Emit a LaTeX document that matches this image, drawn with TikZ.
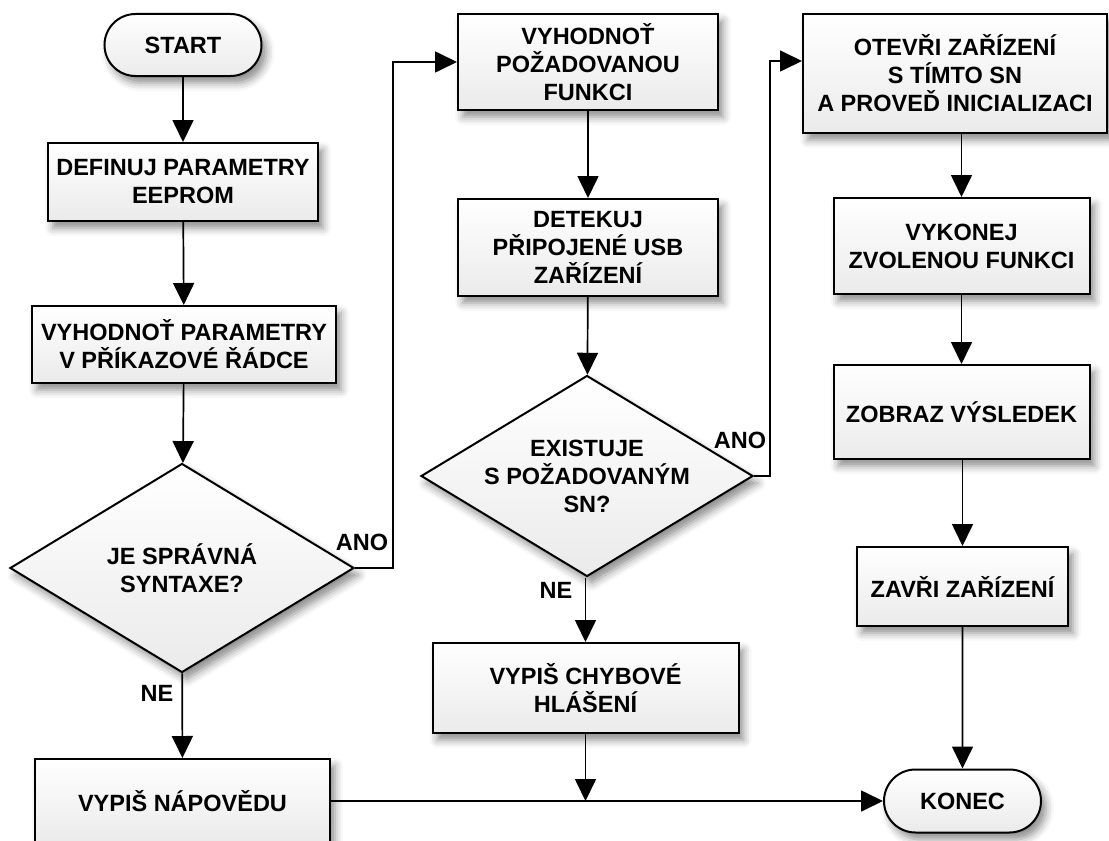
\documentclass[tikz,border=0pt]{standalone}
\usepackage{fontspec}
\setmainfont{Liberation Sans}
\usetikzlibrary{shapes.geometric,shapes.misc,arrows.meta,shadows.blur}
\begin{document}
\begin{tikzpicture}[x=1bp,y=-1bp,
  every node/.style={font=\fontsize{23.5bp}{28bp}\selectfont\bfseries},
  shaped/.style={draw=black, line width=2bp, top color=white, bottom color=black!8,
    blur shadow={shadow xshift=5bp, shadow yshift=-7bp, shadow blur radius=8bp, shadow opacity=45},
    align=center, inner sep=0pt},
  procbox/.style={shaped, rectangle},
  termbox/.style={shaped, rounded rectangle},
  decbox/.style={shaped, diamond},
  flow/.style={line width=1.7bp, -{Triangle[length=22bp,width=21bp]}},
  lbl/.style={inner sep=0pt}
]
\useasboundingbox (0,0) rectangle (1109,841);

% left column
\node[termbox, minimum width=157bp, minimum height=62bp] (start) at (183,45) {START};
\node[procbox, minimum width=270bp, minimum height=78bp] (def) at (183,182) {DEFINUJ PARAMETRY\\EEPROM};
\node[procbox, minimum width=304bp, minimum height=77bp] (cmd) at (184,344.5) {VYHODNOŤ PARAMETRY\\V PŘÍKAZOVÉ ŘÁDCE};
\node[decbox, minimum width=344bp, minimum height=209bp, aspect=1.65] (syn) at (182,568) {JE SPRÁVNÁ\\SYNTAXE?};
\node[procbox, minimum width=295bp, minimum height=84bp] (help) at (182.5,801) {VYPIŠ NÁPOVĚDU};

% middle column
\node[procbox, minimum width=260bp, minimum height=96bp] (func) at (588,62) {VYHODNOŤ\\POŽADOVANOU\\FUNKCI};
\node[procbox, minimum width=260bp, minimum height=97bp] (usb) at (588,247.5) {DETEKUJ\\PŘIPOJENÉ USB\\ZAŘÍZENÍ};
\node[decbox, minimum width=332bp, minimum height=201bp, aspect=1.65] (exist) at (587,476) {EXISTUJE\\S POŽADOVANÝM\\SN?};
\node[procbox, minimum width=306bp, minimum height=90bp] (err) at (585.5,688) {VYPIŠ CHYBOVÉ\\HLÁŠENÍ};

% right column
\node[procbox, minimum width=304bp, minimum height=119bp] (open) at (955,73.5) {OTEVŘI ZAŘÍZENÍ\\S TÍMTO SN\\A PROVEĎ INICIALIZACI};
\node[procbox, minimum width=256bp, minimum height=96bp] (run) at (961.5,246) {VYKONEJ\\ZVOLENOU FUNKCI};
\node[procbox, minimum width=256bp, minimum height=94bp] (show) at (961.5,412) {ZOBRAZ VÝSLEDEK};
\node[procbox, minimum width=211bp, minimum height=79bp] (close) at (962.5,586.5) {ZAVŘI ZAŘÍZENÍ};
\node[termbox, minimum width=157bp, minimum height=63bp] (end) at (962.5,801) {KONEC};

% connectors
\draw[flow] (start) -- (def);
\draw[flow] (def) -- (cmd);
\draw[flow] (cmd) -- (syn);
\draw[flow] (syn) -- (help);
\coordinate (j1) at (393,568);
\draw[flow] (syn.east) -- (j1) |- (func.west);

\draw[flow] (func) -- (usb);
\draw[flow] (usb) -- (exist);
\draw[flow] (exist.south -| err.north) -- (err.north);
\coordinate (j2) at (770,476);
\coordinate (openin) at ([yshift=12.5bp]open.west);
\draw[flow] (exist.east) -- (j2) |- (openin);

\coordinate (j3) at (err.south |- help.east);
\draw[flow] (err) -- (j3);
\draw[flow] (help.east) -- (end.west);

\draw[flow] (run.north |- open.south) -- (run.north);
\draw[flow] (run) -- (show);
\draw[flow] (show.south -| close.north) -- (close.north);
\draw[flow] (close) -- (end);

% branch labels
\node[lbl] (ano1) at (362,542) {ANO};
\node[lbl] (ne1) at (157,693) {NE};
\node[lbl] (ano2) at (740,440) {ANO};
\node[lbl] (ne2) at (556,590) {NE};
\end{tikzpicture}
\end{document}
